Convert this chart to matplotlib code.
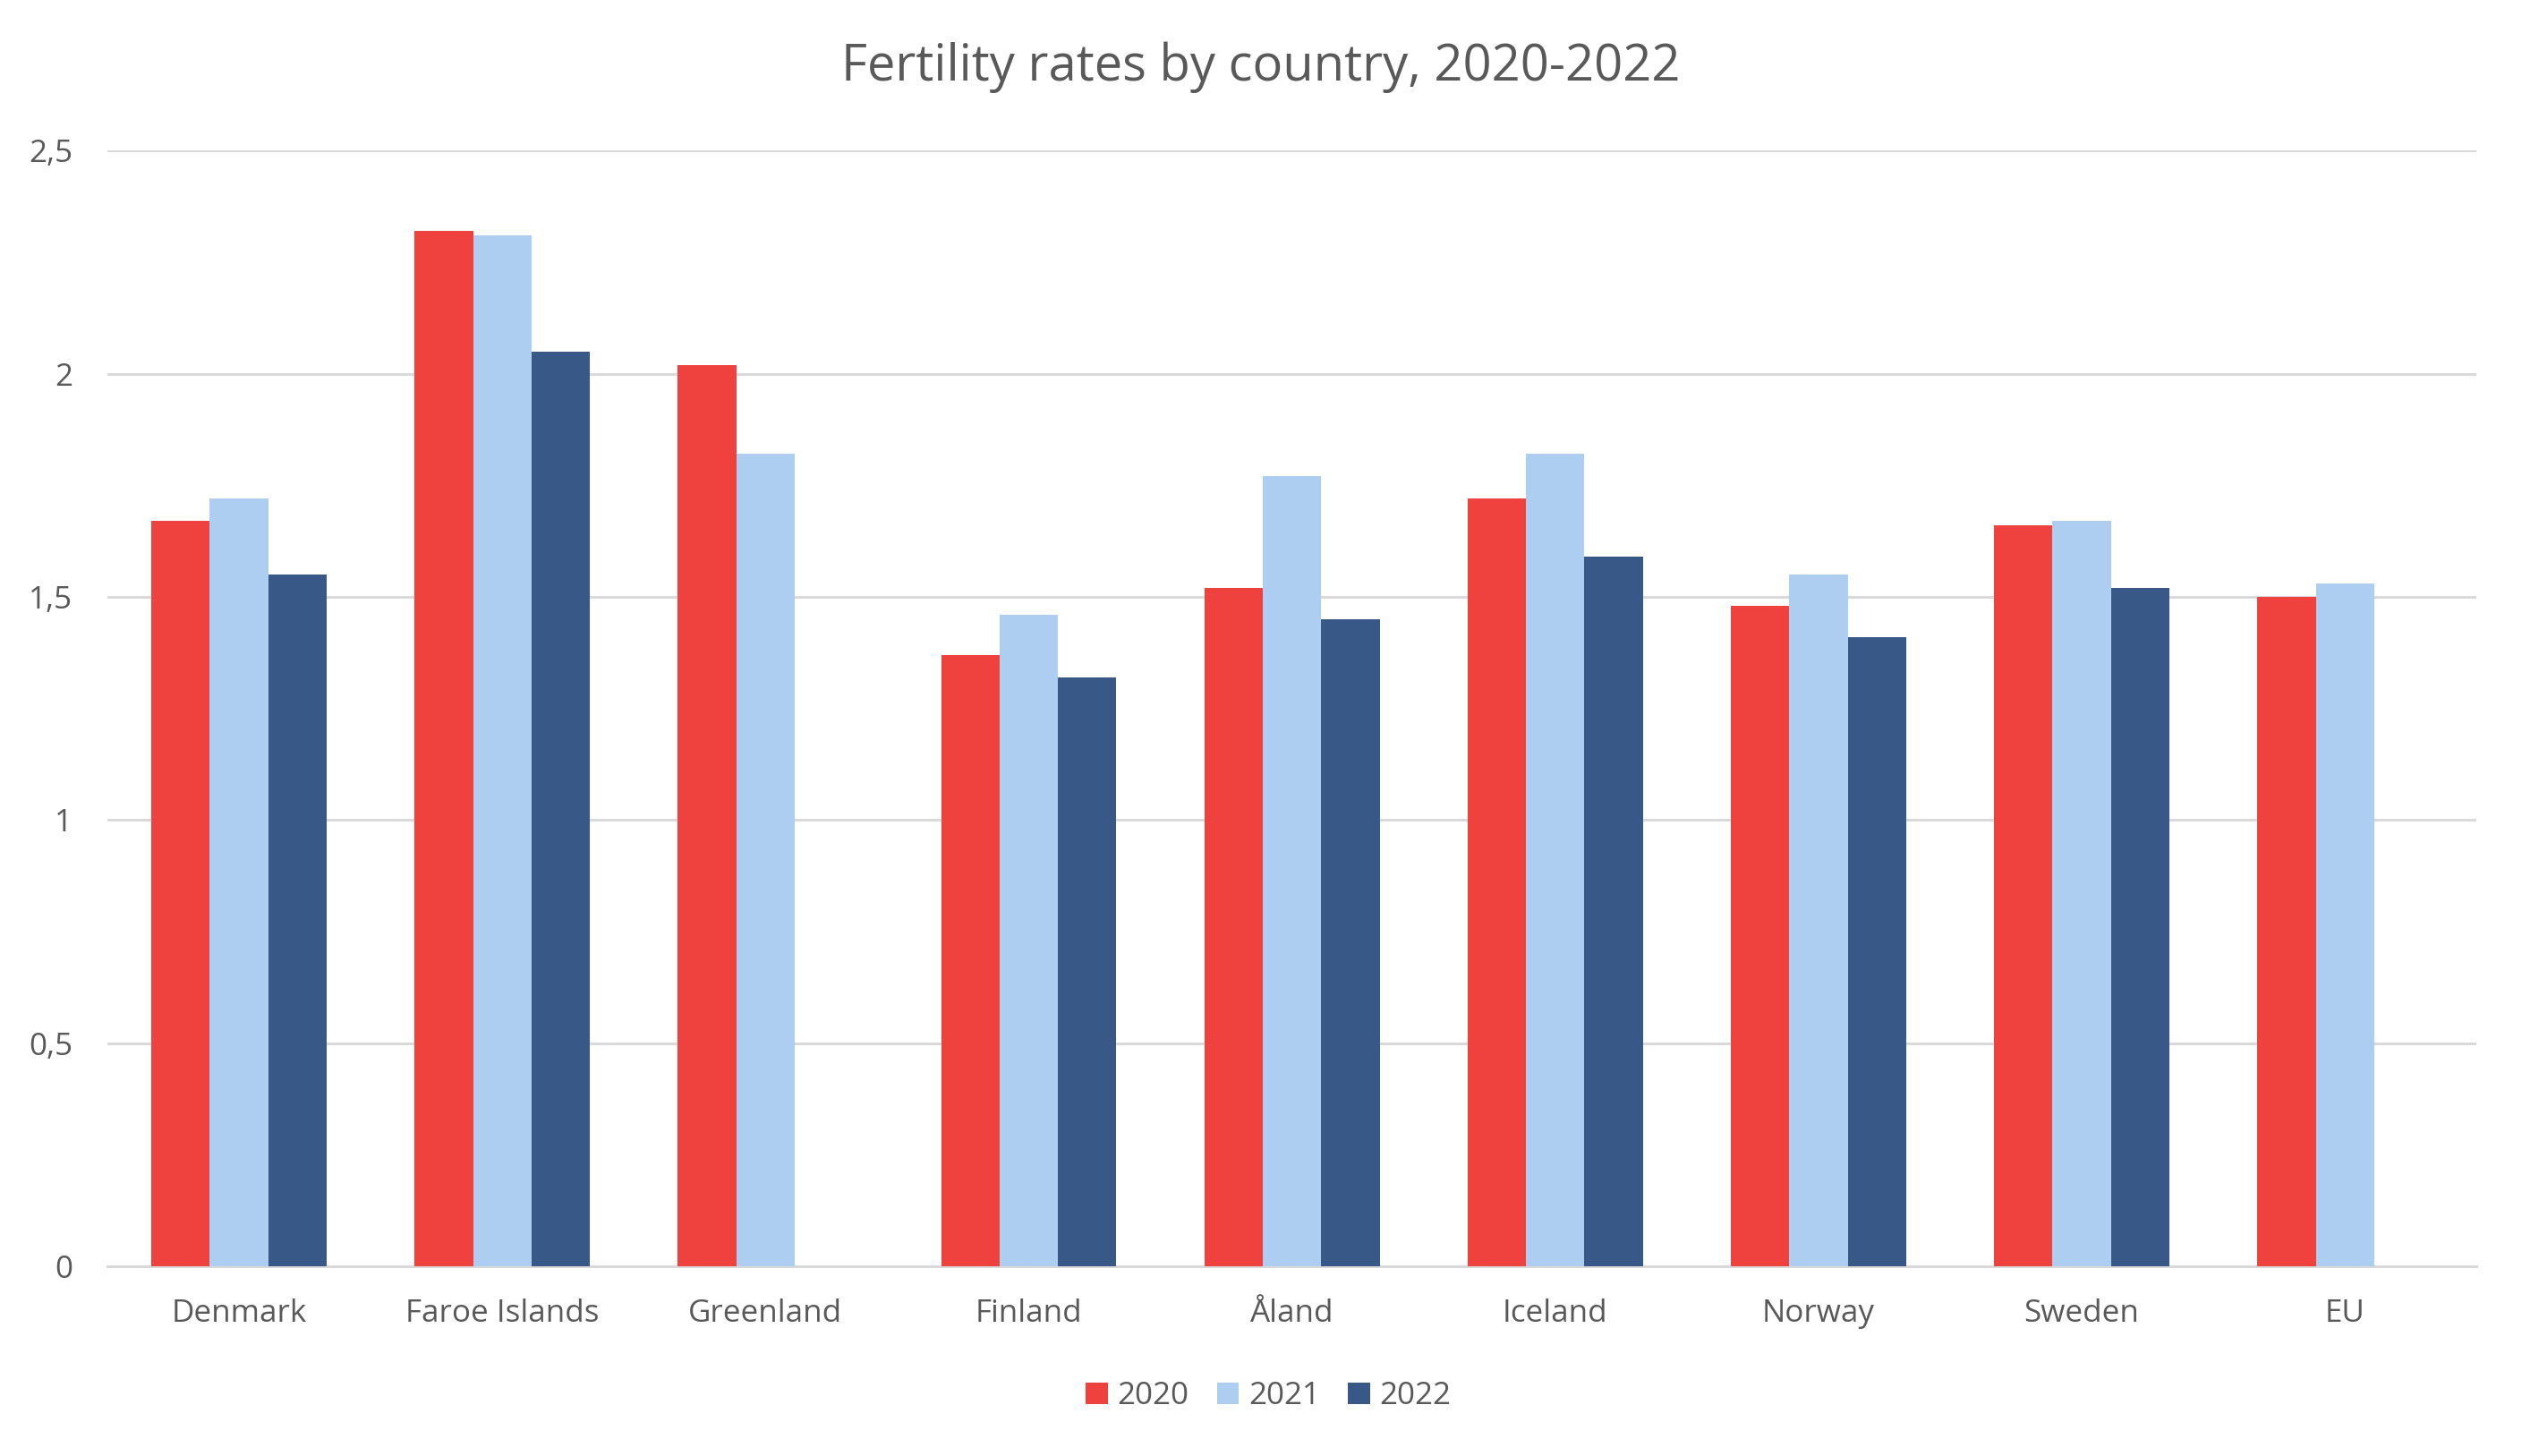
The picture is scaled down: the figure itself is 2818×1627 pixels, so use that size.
import numpy as np
import matplotlib
matplotlib.use("Agg")
import matplotlib.pyplot as plt
from matplotlib.ticker import FuncFormatter

# Fertility rates
countries = ['Denmark', 'Faroe Islands', 'Greenland', 'Finland', 'Åland',
             'Iceland', 'Norway', 'Sweden', 'EU']
years = ['2020', '2021', '2022']
rates_2020 = [1.67, 2.32, 2.02, 1.37, 1.52, 1.72, 1.48, 1.66, 1.50]
rates_2021 = [1.72, 2.31, 1.82, 1.46, 1.77, 1.82, 1.55, 1.67, 1.53]
rates_2022 = [1.55, 2.05, np.nan, 1.32, 1.45, 1.59, 1.41, 1.52, np.nan]

colors = ['#EF413D', '#ADCEF1', '#385987']
text_color = '#595959'
grid_color = '#D9D9D9'

plt.rcParams['font.family'] = ['Open Sans', 'DejaVu Sans']

fig = plt.figure(figsize=(14.09, 8.135), dpi=200)
ax = fig.add_axes([0.0426, 0.1302, 0.9394, 0.7664])

x = np.arange(len(countries))
width = 0.222
series = [rates_2020, rates_2021, rates_2022]
for i, (vals, year) in enumerate(zip(series, years)):
    ax.bar(x + (i - 1) * width, vals, width, color=colors[i], label=year,
           zorder=3)

ax.set_xlim(-0.5, len(countries) - 0.5)
ax.set_ylim(0, 2.5)
ax.set_yticks([0, 0.5, 1, 1.5, 2, 2.5])
ax.yaxis.set_major_formatter(FuncFormatter(
    lambda v, p: ('%g' % v).replace('.', ',')))
ax.set_xticks(x)
ax.set_xticklabels(countries)

ax.grid(axis='y', color=grid_color, linewidth=1.1, zorder=0)
for side in ['top', 'right', 'left']:
    ax.spines[side].set_visible(False)
ax.spines['bottom'].set_color(grid_color)
ax.spines['bottom'].set_linewidth(1.1)
ax.tick_params(axis='both', length=0, labelsize=12.6, colors=text_color)
ax.tick_params(axis='x', pad=13)
ax.tick_params(axis='y', pad=14)

fig.text(0.5, 0.954, 'Fertility rates by country, 2020-2022',
         ha='center', va='center', fontsize=20.2, color=text_color)

leg = fig.legend(loc='center', bbox_to_anchor=(0.503, 0.041), ncol=3,
                 frameon=False, fontsize=12.6, handlelength=0.7,
                 handleheight=0.7, handletextpad=0.3, columnspacing=0.9)
for t in leg.get_texts():
    t.set_color(text_color)

fig.savefig('out.png', dpi=200, facecolor='white')
